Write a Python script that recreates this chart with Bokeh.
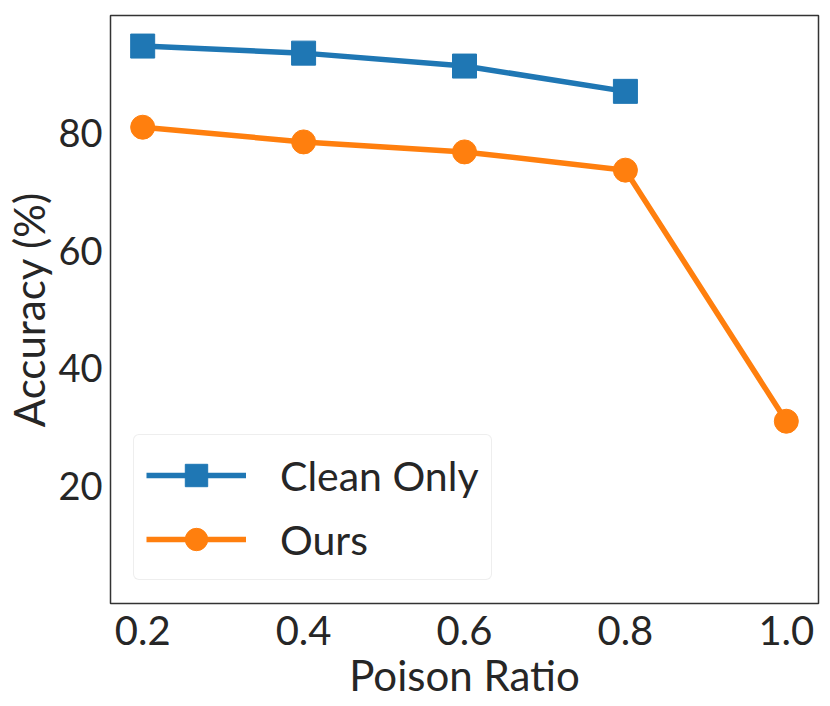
from bokeh.plotting import figure
from bokeh.models import Range1d, FixedTicker, Legend, LegendItem
from bokeh.embed import file_html
from bokeh.resources import INLINE

poison_ratio = [0.2, 0.4, 0.6, 0.8, 1.0]
clean_ratio = [0.2, 0.4, 0.6, 0.8]
clean_only = [94.8, 93.6, 91.4, 87.1]
ours = [81.0, 78.5, 76.8, 73.7, 31.0]
x_ticks = [0.2, 0.4, 0.6, 0.8, 1.0]
y_ticks = [20, 40, 60, 80]

FONT = "Lato"
TXT = "#262626"

p = figure(width=822, height=702, output_backend="svg", toolbar_location=None,
           x_range=Range1d(0.16, 1.04), y_range=Range1d(0, 100),
           min_border_left=110, min_border_top=15, min_border_right=4, min_border_bottom=10)
p.grid.visible = False
p.outline_line_color = "#333333"
p.outline_line_width = 1.5

for ax in (p.xaxis[0], p.yaxis[0]):
    ax.axis_line_color = None
    ax.major_tick_line_color = None
    ax.minor_tick_line_color = None
    ax.major_label_text_font = FONT
    ax.major_label_text_color = TXT
    ax.axis_label_text_font = FONT
    ax.axis_label_text_font_size = "42px"
    ax.axis_label_text_font_style = "normal"
    ax.axis_label_text_color = TXT

p.xaxis.major_label_text_font_size = "40px"
p.yaxis.major_label_text_font_size = "38px"
p.xaxis.ticker = FixedTicker(ticks=x_ticks)
p.yaxis.ticker = FixedTicker(ticks=y_ticks)
p.xaxis.major_label_overrides = {v: f"{v:.1f}" for v in x_ticks}
p.xaxis.axis_label = "Poison Ratio"
p.yaxis.axis_label = "Accuracy (%)"
p.xaxis.major_label_standoff = 6
p.yaxis.major_label_standoff = 2
p.xaxis.axis_label_standoff = 2
p.yaxis.axis_label_standoff = 1

l1 = p.line(clean_ratio, clean_only, line_color="#1f77b4", line_width=5.5)
s1 = p.scatter(clean_ratio, clean_only, marker="square", size=24, fill_color="#1f77b4", line_color="#1f77b4")
l2 = p.line(poison_ratio, ours, line_color="#ff7f0e", line_width=5.5)
s2 = p.scatter(poison_ratio, ours, marker="circle", size=24, fill_color="#ff7f0e", line_color="#ff7f0e")

legend = Legend(items=[LegendItem(label="Clean Only", renderers=[l1, s1]),
                       LegendItem(label="Ours", renderers=[l2, s2])],
                location=(23, 23), margin=0, padding=12, spacing=8,
                glyph_width=100, glyph_height=56, label_height=56, label_standoff=34,
                label_text_font=FONT, label_text_font_size="41px", label_text_color=TXT,
                border_line_color="#dddddd", border_line_width=1.5, background_fill_alpha=0.9,
                border_radius=6)
p.add_layout(legend)

open("out.html", "w").write(file_html(p, INLINE))
